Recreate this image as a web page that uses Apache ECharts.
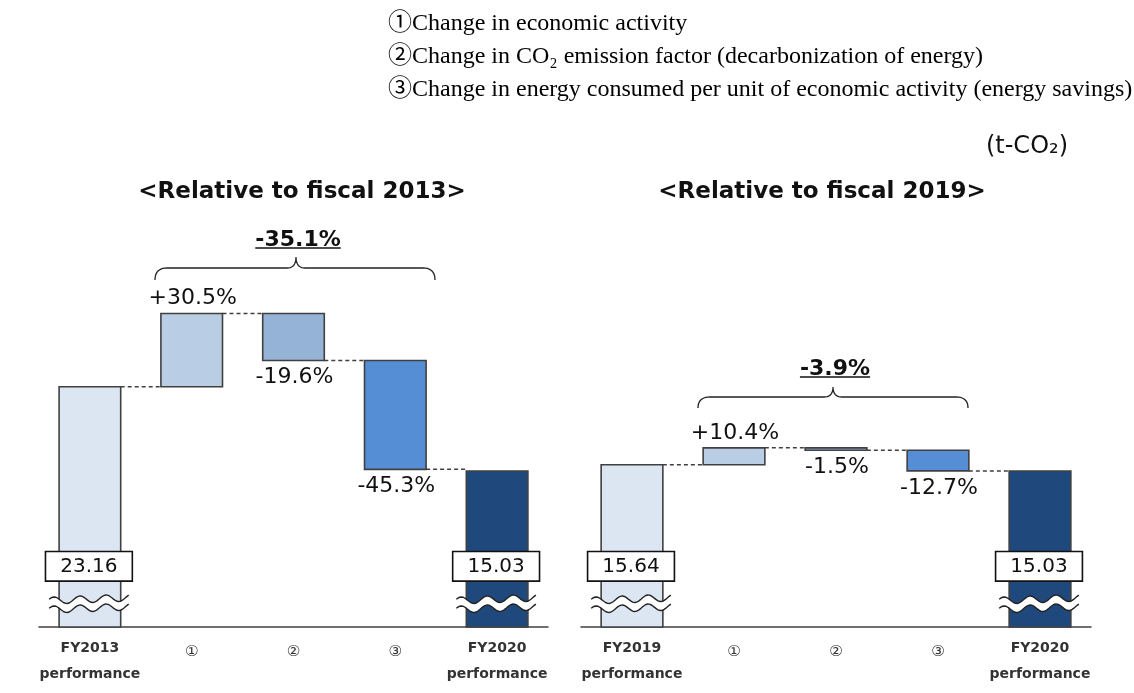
<!DOCTYPE html>
<html>
<head>
<meta charset="utf-8">
<script src="https://cdn.jsdelivr.net/npm/echarts@6/dist/echarts.min.js"></script>
<style>
  html, body { margin: 0; padding: 0; background: #ffffff; }
  #chart { width: 1134px; height: 693px; }
</style>
</head>
<body>
<div id="chart"></div>
<script>
// ---- Data: CO2 emissions (t-CO2) and factor contributions (%) ----
const categories2013 = ['FY2013\nperformance', '①', '②', '③', 'FY2020\nperformance'];
const totals2013 = [23.16, 15.03];
const changes2013 = [30.5, -19.6, -45.3];
const overall2013 = -35.1;

const categories2019 = ['FY2019\nperformance', '①', '②', '③', 'FY2020\nperformance'];
const totals2019 = [15.64, 15.03];
const changes2019 = [10.4, -1.5, -12.7];
const overall2019 = -3.9;

const factorNotes = [
  '①Change in economic activity',
  '②Change in CO₂ emission factor (decarbonization of energy)',
  '③Change in energy consumed per unit of economic activity (energy savings)'
];
const unitLabel = '(t-CO₂)';
const panelTitles = ['<Relative to fiscal 2013>', '<Relative to fiscal 2019>'];

// ---- Styling ----
const FILLS = ['#DCE6F2', '#B9CDE5', '#95B3D7', '#558ED5', '#1F497D'];
const EDGE = '#404040';
const SANS = '"DejaVu Sans", Verdana, sans-serif';
const SERIF = '"Liberation Serif", "Times New Roman", "Noto Sans CJK JP", serif';
const BREAK_AT = 2.25;   // value-axis height of the axis-break squiggle
const BOX_AT = 5.85;     // value-axis height of the total label boxes

// Build waterfall segments from the start total and percentage changes
function buildSteps(totals, changes) {
  const start = totals[0];
  const items = [{ cat: 0, low: 0, high: start, kind: 0, box: start, out: start }];
  let run = start;
  changes.forEach(function (pct, i) {
    const next = run + start * pct / 100;
    items.push({ cat: i + 1, low: Math.min(run, next), high: Math.max(run, next), kind: i + 1, pct: pct, out: next });
    run = next;
  });
  items.push({ cat: 4, low: 0, high: totals[1], kind: 4, box: totals[1] });
  return items;
}

// Wavy edge of the axis-break band
function wavePoints(x0, x1, yc, offset) {
  const pts = [];
  const n = 48;
  for (let i = 0; i <= n; i++) {
    const x = x0 + (x1 - x0) * i / n;
    const y = yc + offset - 3.5 * Math.sin((x - x0) / 26 * Math.PI * 2 + 0.4) + (i / n - 0.5) * -3;
    pts.push([x, y]);
  }
  return pts;
}

function makeRenderer(items) {
  return function (params, api) {
    const d = items[params.dataIndex];
    const top = api.coord([d.cat, d.high]);
    const bot = api.coord([d.cat, d.low]);
    const cx = top[0];
    const w = api.size([1, 0])[0] * 0.605;
    const children = [];

    children.push({
      type: 'rect',
      shape: { x: cx - w / 2, y: top[1], width: w, height: Math.max(bot[1] - top[1], 0.5) },
      style: { fill: FILLS[d.kind], stroke: EDGE, lineWidth: 1.6 }
    });

    if (d.out !== undefined) {
      const ly = api.coord([d.cat, d.out])[1];
      const nx = api.coord([d.cat + 1, d.out])[0] - w / 2;
      children.push({
        type: 'line',
        shape: { x1: cx + w / 2, y1: ly, x2: nx, y2: ly },
        style: { stroke: '#404040', lineWidth: 1.5, lineDash: [4, 3] }
      });
    }

    if (d.pct !== undefined) {
      const txt = (d.pct > 0 ? '+' : '') + d.pct.toFixed(1) + '%';
      children.push({
        type: 'text',
        style: {
          text: txt, x: cx + 1, y: d.pct > 0 ? top[1] - 15 : bot[1] + 17,
          align: 'center', verticalAlign: 'middle',
          fontFamily: SANS, fontSize: 22, fill: '#111'
        }
      });
    }

    if (d.box !== undefined) {
      const by = api.coord([d.cat, BOX_AT])[1];
      const wy = api.coord([d.cat, BREAK_AT])[1];
      const x0 = cx - w / 2 - 10, x1 = cx + w / 2 + 8;
      const topLine = wavePoints(x0, x1, wy, -4.5);
      const botLine = wavePoints(x0, x1, wy, 4.5);
      children.push({
        type: 'polygon',
        shape: { points: topLine.concat(botLine.slice().reverse()) },
        style: { fill: '#ffffff', stroke: null }
      });
      children.push({ type: 'polyline', shape: { points: topLine }, style: { stroke: '#222', lineWidth: 1.4, fill: null } });
      children.push({ type: 'polyline', shape: { points: botLine }, style: { stroke: '#222', lineWidth: 1.4, fill: null } });
      children.push({
        type: 'text',
        style: {
          text: d.box.toFixed(2), x: cx - 1, y: by,
          align: 'center', verticalAlign: 'middle',
          fontFamily: SANS, fontSize: 20, fill: '#111',
          backgroundColor: '#ffffff', borderColor: '#111', borderWidth: 1.6,
          padding: [3, 14, 3, 14], lineHeight: 22
        }
      });
    }
    return { type: 'group', children: children };
  };
}

const steps2013 = buildSteps(totals2013, changes2013);
const steps2019 = buildSteps(totals2019, changes2019);

function categoryAxis(gridIndex, cats) {
  return {
    type: 'category', gridIndex: gridIndex, data: cats,
    axisLine: { lineStyle: { color: '#404040', width: 1.5 } },
    axisTick: { show: false },
    axisLabel: {
      interval: 0, margin: 8,
      formatter: function (v) {
        return v.indexOf('\n') >= 0 ? v.split('\n').map(function (s) { return '{b|' + s + '}'; }).join('\n') : '{c|' + v + '}';
      },
      rich: {
        b: { fontFamily: SANS, fontWeight: 'bold', fontSize: 14, lineHeight: 26, color: '#333' },
        c: { fontFamily: SANS, fontSize: 15, lineHeight: 34, color: '#333' }
      }
    }
  };
}

function valueAxis(gridIndex) {
  return { type: 'value', gridIndex: gridIndex, min: 0, max: 40, show: false, splitLine: { show: false } };
}

function textWidth(str, font) {
  const ctx = document.createElement('canvas').getContext('2d');
  ctx.font = font;
  return ctx.measureText(str).width;
}

// Curly brace as a sampled polyline (quadratic corners)
function quad(p0, c, p1, n, out) {
  for (let i = 1; i <= n; i++) {
    const t = i / n, u = 1 - t;
    out.push([u * u * p0[0] + 2 * u * t * c[0] + t * t * p1[0], u * u * p0[1] + 2 * u * t * c[1] + t * t * p1[1]]);
  }
}
function bracePoints(x0, tip, x1, yEnd, yH, yTip) {
  const pts = [[x0, yEnd]];
  quad([x0, yEnd], [x0, yH], [x0 + 12, yH], 10, pts);
  pts.push([tip - 9, yH]);
  quad([tip - 9, yH], [tip, yH], [tip, yTip], 10, pts);
  quad([tip, yTip], [tip, yH], [tip + 9, yH], 10, pts);
  pts.push([x1 - 12, yH]);
  quad([x1 - 12, yH], [x1, yH], [x1, yEnd], 10, pts);
  return pts;
}

function totalLabel(value, cx, cy) {
  const txt = value.toFixed(1) + '%';
  const font = 'bold 22px ' + SANS;
  const tw = textWidth(txt, font);
  return [
    { type: 'text', x: cx, y: cy, style: { text: txt, font: font, fill: '#111', align: 'center', verticalAlign: 'middle' } },
    { type: 'line', shape: { x1: cx - tw / 2, y1: cy + 8, x2: cx + tw / 2, y2: cy + 8 }, style: { stroke: '#111', lineWidth: 1.5 } }
  ];
}

const graphics = [];
factorNotes.forEach(function (t, i) {
  graphics.push({ type: 'text', x: 388, y: 24 + i * 33,
    style: { text: t, fontFamily: SERIF, fontSize: 24, fill: '#000', align: 'left', verticalAlign: 'middle' } });
});
graphics.push({ type: 'text', x: 1068, y: 147,
  style: { text: unitLabel, fontFamily: SANS, fontSize: 24, fill: '#111', align: 'right', verticalAlign: 'middle' } });
graphics.push({ type: 'text', x: 302, y: 192,
  style: { text: panelTitles[0], fontFamily: SANS, fontWeight: 'bold', fontSize: 23, fill: '#111', align: 'center', verticalAlign: 'middle' } });
graphics.push({ type: 'text', x: 822, y: 192,
  style: { text: panelTitles[1], fontFamily: SANS, fontWeight: 'bold', fontSize: 23, fill: '#111', align: 'center', verticalAlign: 'middle' } });
graphics.push({ type: 'polyline', shape: { points: bracePoints(155, 296, 435, 280, 268, 257) }, style: { stroke: '#222', lineWidth: 1.3, fill: null } });
graphics.push({ type: 'polyline', shape: { points: bracePoints(698, 833, 968, 408, 397, 387) }, style: { stroke: '#222', lineWidth: 1.3, fill: null } });
totalLabel(overall2013, 298, 240).forEach(function (g) { graphics.push(g); });
totalLabel(overall2019, 835, 369).forEach(function (g) { graphics.push(g); });

const chart = echarts.init(document.getElementById('chart'), null, { renderer: 'canvas' });
chart.setOption({
  backgroundColor: '#ffffff',
  animation: false,
  grid: [
    { left: 39, width: 509, top: 212, height: 415 },
    { left: 581, width: 510, top: 212, height: 415 }
  ],
  xAxis: [categoryAxis(0, categories2013), categoryAxis(1, categories2019)],
  yAxis: [valueAxis(0), valueAxis(1)],
  series: [
    {
      type: 'custom', xAxisIndex: 0, yAxisIndex: 0, clip: false,
      encode: { x: 0, y: [1, 2] },
      data: steps2013.map(function (d) { return [d.cat, d.low, d.high]; }),
      renderItem: makeRenderer(steps2013)
    },
    {
      type: 'custom', xAxisIndex: 1, yAxisIndex: 1, clip: false,
      encode: { x: 0, y: [1, 2] },
      data: steps2019.map(function (d) { return [d.cat, d.low, d.high]; }),
      renderItem: makeRenderer(steps2019)
    }
  ],
  graphic: graphics
});
</script>
</body>
</html>
